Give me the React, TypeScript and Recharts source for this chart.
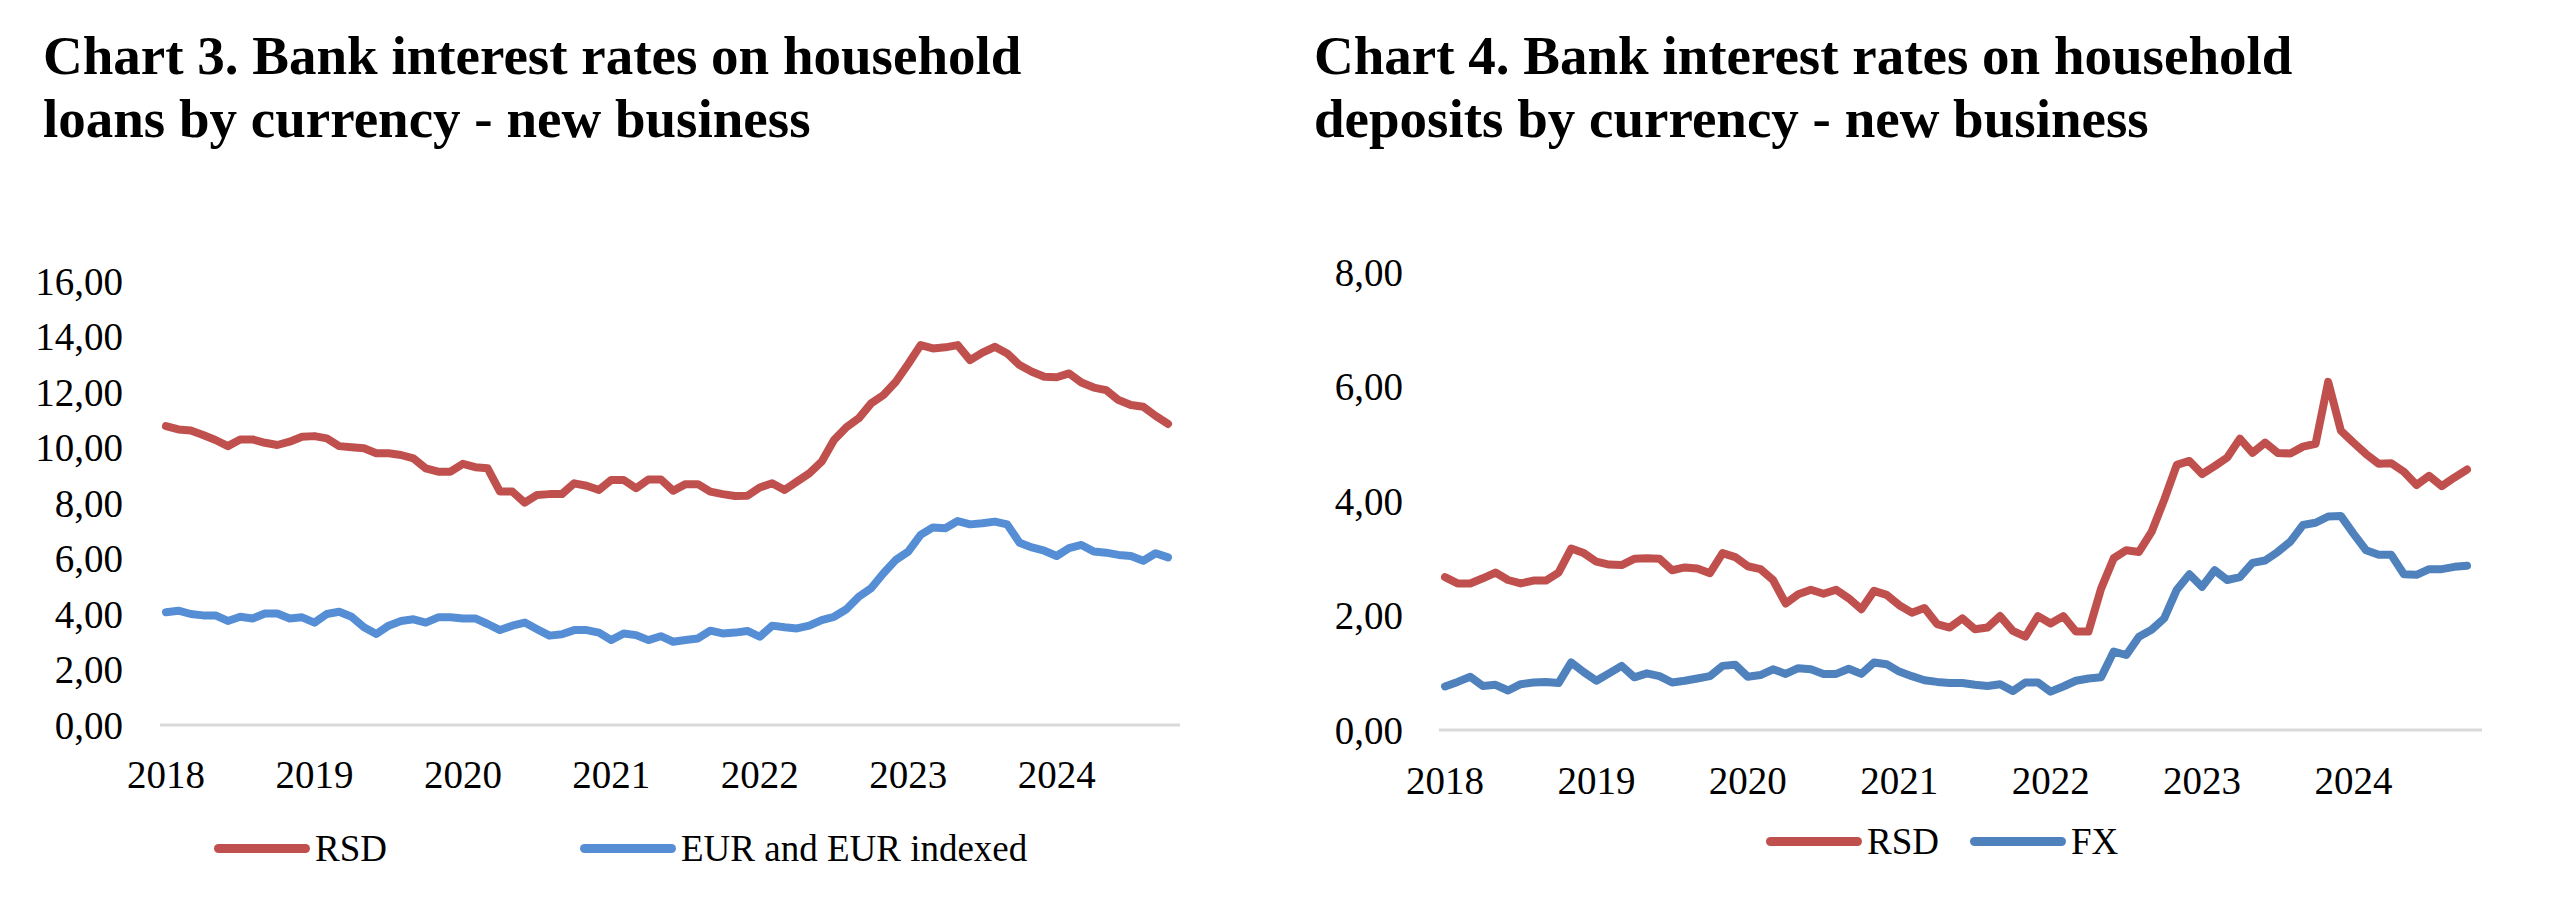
import { LineChart, Line, XAxis, YAxis } from 'recharts';

const FONT = '"Liberation Serif", "Times New Roman", Times, serif';

const YEARS = ['2018', '2019', '2020', '2021', '2022', '2023', '2024'];
// monthly categories, Jan 2018 - Oct 2024
const MONTHS: string[] = YEARS.flatMap((y) =>
  ['01', '02', '03', '04', '05', '06', '07', '08', '09', '10', '11', '12'].map((m) => `${y}-${m}`)
).slice(0, 82);

const LOAN_TICKS = [0, 2, 4, 6, 8, 10, 12, 14, 16];
const DEPOSIT_TICKS = [0, 2, 4, 6, 8];

// Chart 3 - household loans
const LOANS_RSD = [
  10.77, 10.65, 10.61, 10.45, 10.27, 10.05, 10.29, 10.29, 10.17, 10.09, 10.21, 10.39,
  10.41, 10.33, 10.05, 10.01, 9.97, 9.79, 9.79, 9.73, 9.61, 9.25, 9.13, 9.13,
  9.41, 9.29, 9.25, 8.41, 8.41, 8.01, 8.29, 8.32, 8.32, 8.71, 8.62, 8.47,
  8.83, 8.83, 8.53, 8.85, 8.85, 8.44, 8.68, 8.68, 8.41, 8.32, 8.25, 8.26,
  8.56, 8.71, 8.47, 8.77, 9.07, 9.49, 10.27, 10.73, 11.05, 11.59, 11.89, 12.37,
  13.01, 13.69, 13.57, 13.61, 13.69, 13.15, 13.42, 13.63, 13.39, 12.97, 12.73, 12.55,
  12.53, 12.67, 12.34, 12.16, 12.07, 11.71, 11.53, 11.47, 11.14, 10.85,
];
const LOANS_EUR = [
  4.06, 4.12, 4.0, 3.95, 3.95, 3.75, 3.9, 3.84, 4.02, 4.02, 3.84, 3.88,
  3.69, 4.0, 4.08, 3.9, 3.52, 3.28, 3.58, 3.75, 3.81, 3.69, 3.88, 3.88,
  3.84, 3.84, 3.64, 3.42, 3.58, 3.69, 3.45, 3.22, 3.27, 3.42, 3.42, 3.33,
  3.06, 3.3, 3.24, 3.06, 3.2, 3.0, 3.06, 3.12, 3.4, 3.3, 3.33, 3.39,
  3.18, 3.58, 3.52, 3.48, 3.58, 3.78, 3.9, 4.17, 4.62, 4.93, 5.47, 5.95,
  6.25, 6.85, 7.12, 7.09, 7.35, 7.23, 7.27, 7.33, 7.23, 6.57, 6.4, 6.28,
  6.09, 6.37, 6.49, 6.25, 6.21, 6.13, 6.09, 5.92, 6.19, 6.04,
];

// Chart 4 - household deposits
const DEPOSITS_RSD = [
  2.67, 2.56, 2.56, 2.65, 2.75, 2.62, 2.56, 2.61, 2.61, 2.75, 3.17, 3.09,
  2.94, 2.89, 2.88, 2.99, 3.0, 2.99, 2.79, 2.84, 2.82, 2.74, 3.09, 3.02,
  2.86, 2.81, 2.62, 2.21, 2.37, 2.45, 2.38, 2.45, 2.3, 2.11, 2.43, 2.36,
  2.18, 2.05, 2.13, 1.85, 1.79, 1.95, 1.76, 1.79, 1.99, 1.73, 1.63, 1.99,
  1.86, 1.99, 1.72, 1.72, 2.47, 3.0, 3.14, 3.11, 3.46, 4.02, 4.63, 4.7,
  4.47, 4.61, 4.76, 5.09, 4.84, 5.02, 4.84, 4.83, 4.95, 5.0, 6.08, 5.23,
  5.02, 4.82, 4.65, 4.66, 4.51, 4.28, 4.44, 4.26, 4.41, 4.55,
];
const DEPOSITS_FX = [
  0.76, 0.84, 0.93, 0.77, 0.79, 0.69, 0.8, 0.83, 0.84, 0.82, 1.18, 1.01,
  0.86, 0.99, 1.12, 0.92, 0.99, 0.94, 0.83, 0.86, 0.9, 0.94, 1.12, 1.14,
  0.93, 0.96, 1.06, 0.98, 1.08, 1.06, 0.98, 0.98, 1.07, 0.98, 1.18, 1.15,
  1.02, 0.94, 0.87, 0.84, 0.82, 0.82, 0.79, 0.77, 0.8, 0.68, 0.83, 0.83,
  0.67, 0.76, 0.86, 0.9, 0.92, 1.37, 1.31, 1.63, 1.75, 1.95, 2.45, 2.72,
  2.5, 2.79, 2.62, 2.67, 2.92, 2.96, 3.11, 3.29, 3.58, 3.62, 3.73, 3.74,
  3.43, 3.14, 3.06, 3.06, 2.72, 2.71, 2.81, 2.81, 2.85, 2.87,
];

const RED = '#C0504D';
const BLUE_LOANS = '#558ED5';
const BLUE_DEPOSITS = '#4F81BD';

const loansData = MONTHS.map((month, i) => ({ month, rsd: LOANS_RSD[i], other: LOANS_EUR[i] }));
const depositsData = MONTHS.map((month, i) => ({ month, rsd: DEPOSITS_RSD[i], other: DEPOSITS_FX[i] }));

const fmt = (v: number) => v.toFixed(2).replace('.', ',');
const tickStyle = { fill: '#000', fontSize: 39, fontFamily: FONT };

function Title({ left, lines }: { left: number; lines: string[] }) {
  return (
    <div
      style={{
        position: 'absolute',
        left,
        top: 24,
        fontFamily: FONT,
        fontWeight: 700,
        fontSize: 55,
        lineHeight: '63px',
        whiteSpace: 'nowrap',
        color: '#000',
      }}
    >
      {lines.map((l) => (
        <div key={l}>{l}</div>
      ))}
    </div>
  );
}

function LegendItem({ left, top, color, label }: { left: number; top: number; color: string; label: string }) {
  return (
    <div
      style={{
        position: 'absolute',
        left,
        top: top - 25,
        height: 50,
        display: 'flex',
        alignItems: 'center',
        fontFamily: FONT,
        fontSize: 37,
        whiteSpace: 'nowrap',
        color: '#000',
      }}
    >
      <span
        style={{ display: 'inline-block', width: 96, height: 9, borderRadius: 5, background: color, marginRight: 5 }}
      />
      {label}
    </div>
  );
}

interface ChartProps {
  left: number;
  width: number;
  data: { month: string; rsd: number; other: number }[];
  ticks: number[];
  blue: string;
  margin: { top: number; right: number; bottom: number; left: number };
  yWidth: number;
  yMargin: number;
  xMargin: number;
  padding: { left: number; right: number };
}

function RateChart({ left, width, data, ticks, blue, margin, yWidth, yMargin, xMargin, padding }: ChartProps) {
  return (
    <div style={{ position: 'absolute', left, top: 200 }}>
      <LineChart width={width} height={640} data={data} margin={margin}>
        <XAxis
          dataKey="month"
          interval={11}
          tickFormatter={(m: string) => m.slice(0, 4)}
          tickLine={false}
          tickSize={0}
          tickMargin={xMargin}
          axisLine={{ stroke: '#d9d9d9', strokeWidth: 3 }}
          padding={padding}
          tick={tickStyle}
          height={70}
        />
        <YAxis
          type="number"
          domain={[ticks[0], ticks[ticks.length - 1]]}
          ticks={ticks}
          tickFormatter={fmt}
          axisLine={false}
          tickLine={false}
          tickSize={0}
          tickMargin={yMargin}
          width={yWidth}
          tick={tickStyle}
        />
        <Line
          dataKey="rsd"
          stroke={RED}
          strokeWidth={8}
          dot={false}
          activeDot={false}
          strokeLinejoin="round"
          strokeLinecap="round"
          isAnimationActive={false}
        />
        <Line
          dataKey="other"
          stroke={blue}
          strokeWidth={8}
          dot={false}
          activeDot={false}
          strokeLinejoin="round"
          strokeLinecap="round"
          isAnimationActive={false}
        />
      </LineChart>
    </div>
  );
}

export default function App() {
  return (
    <div style={{ position: 'absolute', left: 0, top: 0, width: 2566, height: 910, background: '#fff' }}>
      <Title left={43} lines={['Chart 3. Bank interest rates on household', 'loans by currency - new business']} />
      <Title left={1314} lines={['Chart 4. Bank interest rates on household', 'deposits by currency - new business']} />

      <RateChart
        left={0}
        width={1240}
        data={loansData}
        ticks={LOAN_TICKS}
        blue={BLUE_LOANS}
        margin={{ top: 81, right: 60, bottom: 45, left: 0 }}
        yWidth={160}
        yMargin={37}
        xMargin={35}
        padding={{ left: 6, right: 12 }}
      />
      <RateChart
        left={1283}
        width={1260}
        data={depositsData}
        ticks={DEPOSIT_TICKS}
        blue={BLUE_DEPOSITS}
        margin={{ top: 72, right: 61, bottom: 40, left: 0 }}
        yWidth={156}
        yMargin={36}
        xMargin={36}
        padding={{ left: 6, right: 15 }}
      />

      <LegendItem left={214} top={848} color={RED} label="RSD" />
      <LegendItem left={580} top={848} color={BLUE_LOANS} label="EUR and EUR indexed" />
      <LegendItem left={1766} top={841} color={RED} label="RSD" />
      <LegendItem left={1970} top={841} color={BLUE_DEPOSITS} label="FX" />
    </div>
  );
}
